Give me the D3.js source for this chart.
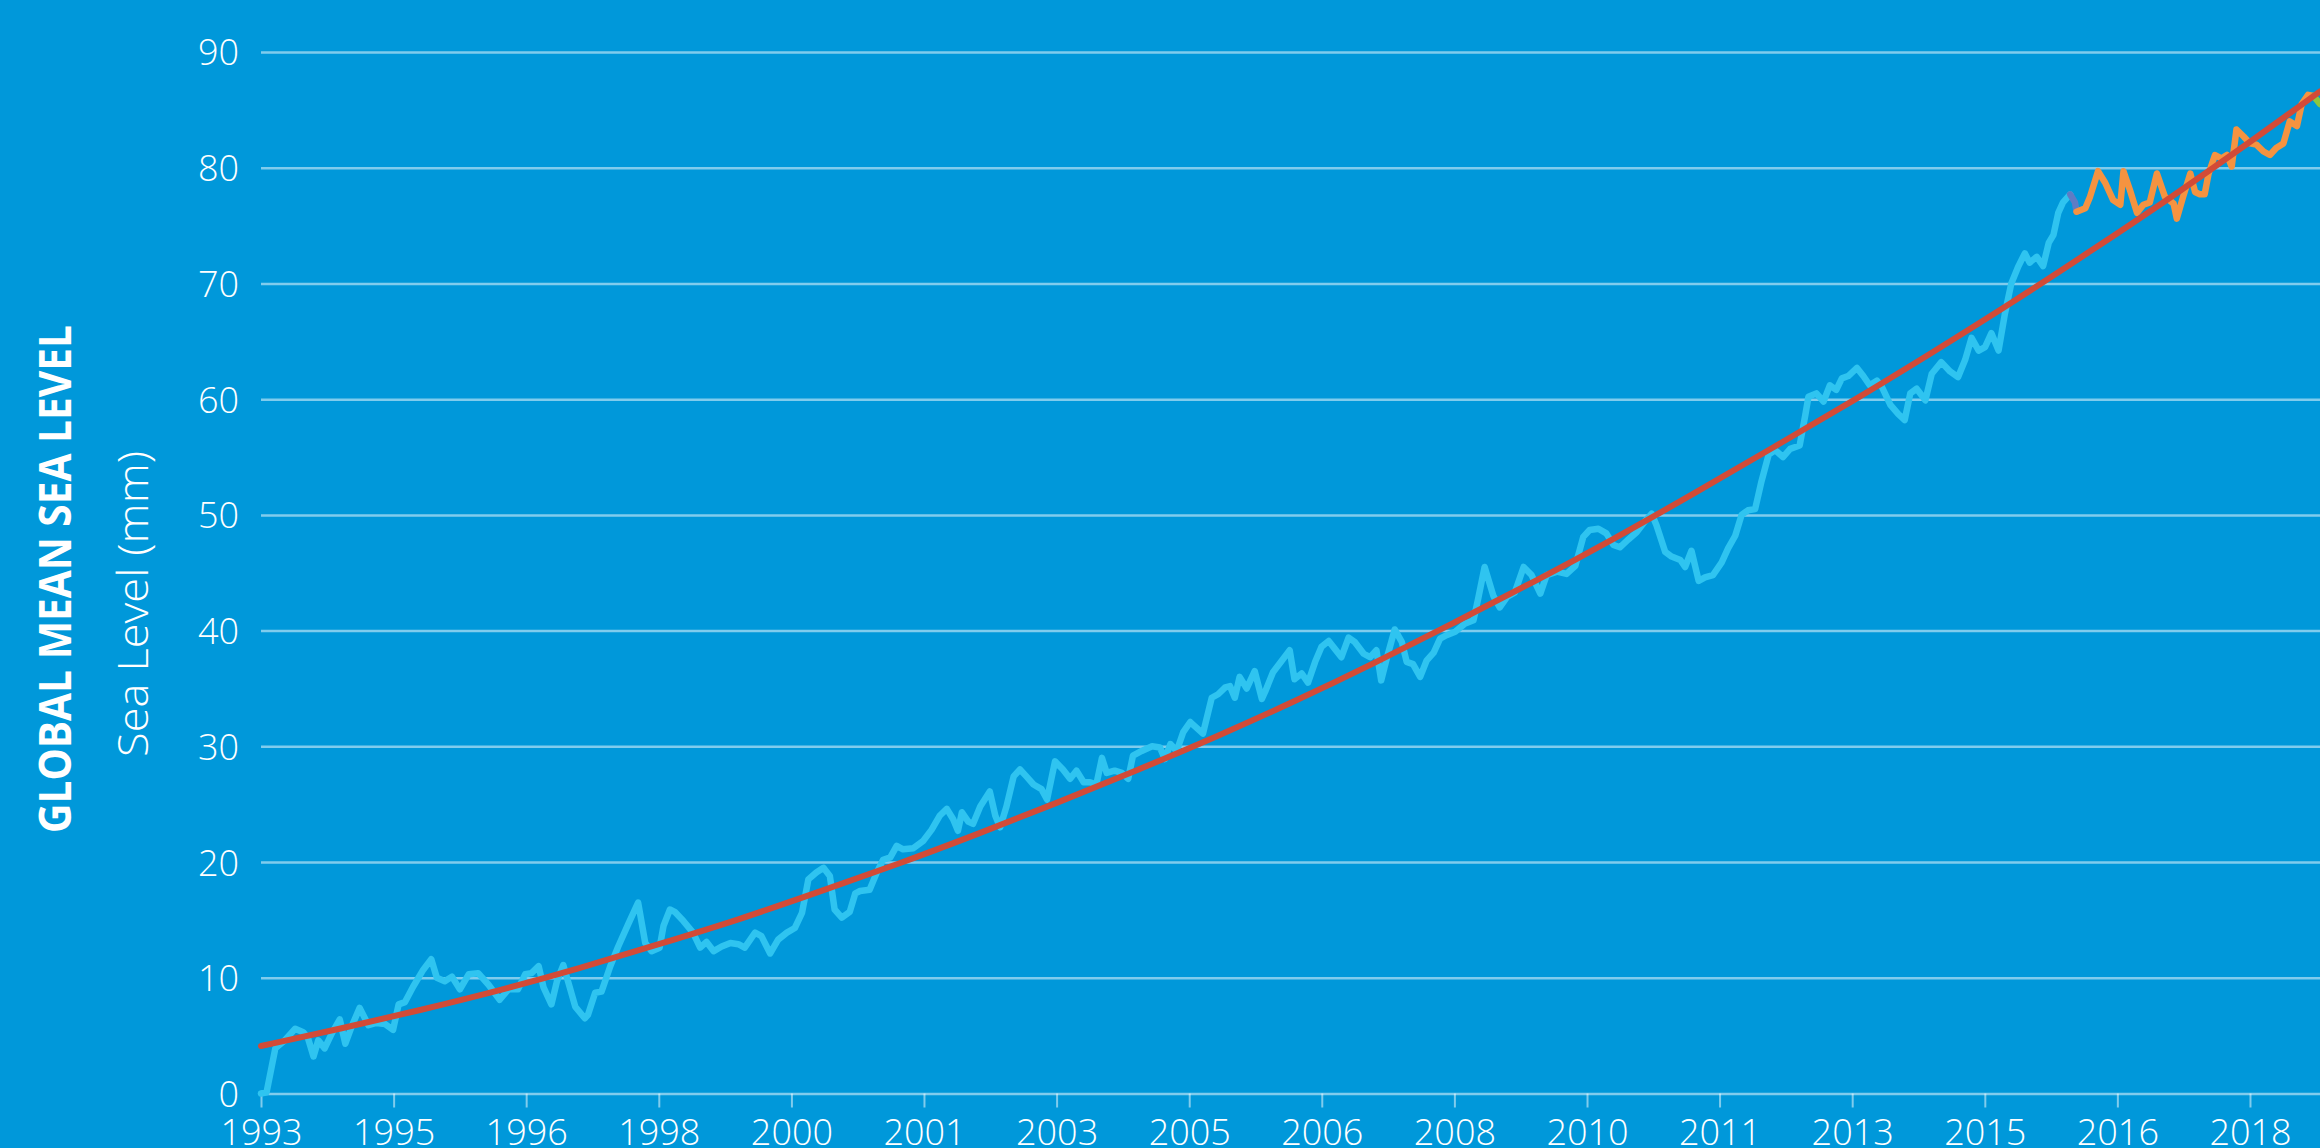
<!DOCTYPE html>
<html>
<head>
<meta charset="utf-8">
<script src="https://cdn.jsdelivr.net/npm/d3@7"></script>
<style>
  html, body { margin: 0; padding: 0; background: #0098da; }
  svg { display: block; }
</style>
</head>
<body>
<div id="my-chart"></div>
<script>
// y axis ticks (mm)
const yTicks = [0, 10, 20, 30, 40, 50, 60, 70, 80, 90];

// x axis ticks (decimal years, every 20 months) and their printed labels
const xTickValues = [1993, 1994.667, 1996.333, 1998, 1999.667, 2001.333, 2003, 2004.667,
                     2006.333, 2008, 2009.667, 2011.333, 2013, 2014.667, 2016.333, 2018];
const xTickLabels = ["1993", "1995", "1996", "1998", "2000", "2001", "2003", "2005",
                     "2006", "2008", "2010", "2011", "2013", "2015", "2016", "2018"];

// climate record, [year, mm]
const cciSeries = [
  [1993.00, 0.0], [1993.07, 0.1], [1993.18, 3.9], [1993.30, 4.6], [1993.43, 5.6], [1993.53, 5.3],
  [1993.59, 4.8], [1993.66, 3.2], [1993.72, 4.6], [1993.80, 3.9], [1993.89, 5.2], [1993.99, 6.4],
  [1994.06, 4.3], [1994.14, 5.8], [1994.24, 7.4], [1994.35, 5.9], [1994.45, 6.1], [1994.56, 6.0],
  [1994.66, 5.5], [1994.73, 7.7], [1994.81, 7.9], [1994.91, 9.2], [1995.04, 10.7], [1995.14, 11.6],
  [1995.21, 10.0], [1995.31, 9.7], [1995.40, 10.1], [1995.50, 9.0], [1995.61, 10.3], [1995.73, 10.4],
  [1995.86, 9.4], [1996.00, 8.1], [1996.11, 9.0], [1996.23, 9.0], [1996.32, 10.3], [1996.40, 10.4],
  [1996.49, 11.0], [1996.55, 9.2], [1996.65, 7.7], [1996.72, 9.7], [1996.80, 11.1], [1996.88, 9.2],
  [1996.95, 7.5], [1997.07, 6.5], [1997.11, 6.8], [1997.20, 8.7], [1997.28, 8.8], [1997.39, 11.0],
  [1997.49, 12.7], [1997.62, 14.7], [1997.74, 16.5], [1997.83, 13.0], [1997.91, 12.3], [1998.01, 12.6],
  [1998.06, 14.5], [1998.14, 15.9], [1998.20, 15.7], [1998.31, 14.9], [1998.43, 13.9], [1998.52, 12.6],
  [1998.60, 13.1], [1998.69, 12.3], [1998.79, 12.7], [1998.90, 13.0], [1999.00, 12.9], [1999.08, 12.6],
  [1999.21, 13.9], [1999.29, 13.6], [1999.40, 12.1], [1999.50, 13.3], [1999.61, 13.9], [1999.71, 14.3],
  [1999.80, 15.6], [1999.88, 18.5], [1999.98, 19.1], [2000.07, 19.5], [2000.15, 18.8], [2000.21, 15.9],
  [2000.30, 15.2], [2000.40, 15.7], [2000.47, 17.3], [2000.53, 17.5], [2000.65, 17.6], [2000.74, 19.1],
  [2000.82, 20.2], [2000.91, 20.4], [2000.99, 21.4], [2001.07, 21.1], [2001.20, 21.2], [2001.32, 21.8],
  [2001.43, 22.8], [2001.53, 24.0], [2001.62, 24.6], [2001.70, 23.7], [2001.76, 22.7], [2001.81, 24.3],
  [2001.89, 23.5], [2001.95, 23.3], [2002.04, 24.8], [2002.16, 26.1], [2002.23, 24.0], [2002.29, 23.0],
  [2002.37, 24.8], [2002.46, 27.4], [2002.54, 28.0], [2002.62, 27.4], [2002.71, 26.7], [2002.81, 26.3],
  [2002.88, 25.4], [2002.98, 28.7], [2003.08, 28.0], [2003.17, 27.2], [2003.25, 27.9], [2003.34, 26.9],
  [2003.42, 26.9], [2003.50, 26.7], [2003.57, 29.0], [2003.63, 27.7], [2003.73, 27.9], [2003.82, 27.7],
  [2003.90, 27.2], [2003.96, 29.2], [2004.07, 29.6], [2004.20, 30.0], [2004.30, 29.9], [2004.36, 28.9],
  [2004.43, 30.2], [2004.51, 29.6], [2004.59, 31.2], [2004.68, 32.1], [2004.76, 31.6], [2004.84, 31.1],
  [2004.95, 34.2], [2005.03, 34.5], [2005.12, 35.1], [2005.18, 35.2], [2005.24, 34.2], [2005.30, 36.0],
  [2005.39, 35.0], [2005.49, 36.5], [2005.58, 34.1], [2005.62, 34.7], [2005.72, 36.4], [2005.83, 37.4],
  [2005.93, 38.3], [2005.99, 35.8], [2006.08, 36.3], [2006.16, 35.5], [2006.25, 37.3], [2006.33, 38.6],
  [2006.42, 39.1], [2006.50, 38.4], [2006.58, 37.7], [2006.67, 39.4], [2006.75, 39.0], [2006.86, 38.0],
  [2006.94, 37.7], [2007.02, 38.3], [2007.08, 35.7], [2007.15, 37.6], [2007.25, 40.1], [2007.34, 39.0],
  [2007.40, 37.3], [2007.48, 37.1], [2007.57, 36.0], [2007.65, 37.4], [2007.74, 38.1], [2007.82, 39.3],
  [2007.90, 39.6], [2008.01, 39.9], [2008.13, 40.6], [2008.24, 40.9], [2008.30, 42.8], [2008.38, 45.5],
  [2008.49, 43.0], [2008.57, 42.0], [2008.66, 42.9], [2008.76, 43.3], [2008.87, 45.5], [2008.97, 44.8],
  [2009.08, 43.2], [2009.16, 44.8], [2009.29, 45.1], [2009.41, 44.9], [2009.52, 45.6], [2009.62, 48.1],
  [2009.70, 48.7], [2009.81, 48.8], [2009.91, 48.4], [2010.00, 47.4], [2010.08, 47.2], [2010.19, 47.9],
  [2010.29, 48.5], [2010.40, 49.5], [2010.48, 50.1], [2010.54, 49.1], [2010.65, 46.8], [2010.73, 46.4],
  [2010.84, 46.1], [2010.90, 45.5], [2010.98, 46.9], [2011.07, 44.3], [2011.15, 44.6], [2011.25, 44.8],
  [2011.36, 45.9], [2011.44, 47.1], [2011.53, 48.2], [2011.61, 50.0], [2011.69, 50.4], [2011.78, 50.5],
  [2011.86, 52.9], [2011.95, 55.2], [2012.03, 55.6], [2012.13, 55.0], [2012.22, 55.7], [2012.34, 56.0],
  [2012.41, 58.6], [2012.45, 60.2], [2012.55, 60.5], [2012.64, 59.8], [2012.72, 61.2], [2012.80, 60.8],
  [2012.87, 61.8], [2012.95, 62.0], [2013.06, 62.7], [2013.14, 62.0], [2013.22, 61.2], [2013.31, 61.6],
  [2013.37, 61.1], [2013.48, 59.5], [2013.58, 58.7], [2013.66, 58.2], [2013.73, 60.5], [2013.81, 60.9],
  [2013.92, 59.9], [2014.00, 62.2], [2014.12, 63.2], [2014.23, 62.4], [2014.33, 61.9], [2014.42, 63.4],
  [2014.50, 65.3], [2014.59, 64.2], [2014.67, 64.5], [2014.75, 65.7], [2014.84, 64.2], [2014.92, 67.4],
  [2015.00, 70.0], [2015.09, 71.5], [2015.17, 72.6], [2015.23, 71.8], [2015.32, 72.3], [2015.40, 71.5],
  [2015.47, 73.5], [2015.53, 74.2], [2015.59, 76.1], [2015.65, 77.0], [2015.74, 77.7]
];

// short joining piece between the two records
const joinSeries = [[2015.74, 77.7], [2015.80, 77.0], [2015.82, 76.2]];

// recent record
const nrtSeries = [
  [2015.82, 76.2], [2015.93, 76.5], [2015.99, 77.5], [2016.09, 79.7], [2016.18, 78.7], [2016.28, 77.2],
  [2016.37, 76.8], [2016.41, 79.7], [2016.49, 78.1], [2016.58, 76.1], [2016.66, 76.8], [2016.74, 77.0],
  [2016.83, 79.5], [2016.93, 77.5], [2017.04, 76.9], [2017.08, 75.6], [2017.16, 77.5], [2017.25, 79.5],
  [2017.31, 77.9], [2017.37, 77.7], [2017.43, 77.7], [2017.48, 79.5], [2017.56, 81.1], [2017.64, 80.8],
  [2017.71, 81.1], [2017.77, 80.1], [2017.83, 83.3], [2017.92, 82.7], [2018.00, 82.1], [2018.08, 82.0],
  [2018.17, 81.4], [2018.25, 81.1], [2018.33, 81.7], [2018.42, 82.1], [2018.50, 84.0], [2018.59, 83.6],
  [2018.65, 85.5], [2018.73, 86.3], [2018.80, 86.2]
];

// last few days
const latestSeries = [[2018.80, 86.2], [2018.88, 85.5]];

// trend curve
const trendSeries = [
  [1993, 4.1], [1994, 5.6], [1995, 7.2], [1996, 8.9], [1997, 10.8], [1998, 12.9], [1999, 15.0],
  [2000, 17.4], [2001, 19.8], [2002, 22.4], [2003, 25.1], [2004, 27.9], [2005, 30.8], [2006, 33.9],
  [2007, 37.2], [2008, 40.7], [2009, 44.2], [2010, 47.9], [2011, 51.8], [2012, 55.8], [2013, 59.8],
  [2014, 64.0], [2015, 68.3], [2016, 72.8], [2017, 77.4], [2018, 82.2], [2018.88, 86.6]
];

const width = 2320, height = 1148;
const marginLeft = 261, marginRight = 0, marginTop = 52, marginBottom = 54.5;
const fontFamily = "'Open Sans', 'Noto Sans', sans-serif";

const svg = d3.select("#my-chart").append("svg")
    .attr("width", width)
    .attr("height", height)
    .attr("viewBox", [0, 0, width, height]);

svg.append("rect")
    .attr("width", width)
    .attr("height", height)
    .attr("fill", "#0098da");

const x = d3.scaleLinear()
    .domain([1993, 2018.88])
    .range([marginLeft, width - marginRight]);

const y = d3.scaleLinear()
    .domain([0, 90])
    .range([height - marginBottom, marginTop]);

const gridColor = "rgba(255,255,255,0.5)";

// y axis + horizontal grid
svg.append("g")
    .attr("transform", `translate(${marginLeft},0)`)
    .call(d3.axisLeft(y).tickValues(yTicks).tickSize(-(width - marginLeft - marginRight)).tickPadding(22))
    .call(g => g.select(".domain").remove())
    .call(g => g.selectAll(".tick line")
        .attr("stroke", gridColor)
        .attr("stroke-width", 2.5))
    .call(g => g.selectAll(".tick text")
        .attr("fill", "#fff")
        .attr("font-family", fontFamily)
        .attr("font-weight", 300)
        .attr("font-size", 36)
        .attr("dy", "0.36em"));

// x axis
svg.append("g")
    .attr("transform", `translate(0,${height - marginBottom})`)
    .call(d3.axisBottom(x).tickValues(xTickValues).tickFormat((d, i) => xTickLabels[i]).tickSize(14).tickPadding(12))
    .call(g => g.select(".domain").remove())
    .call(g => g.selectAll(".tick line")
        .attr("stroke", gridColor)
        .attr("stroke-width", 2))
    .call(g => g.selectAll(".tick text")
        .attr("fill", "#fff")
        .attr("font-family", fontFamily)
        .attr("font-weight", 300)
        .attr("font-size", 36));

// axis titles
svg.append("text")
    .attr("transform", "translate(71,579) rotate(-90)")
    .attr("text-anchor", "middle")
    .attr("fill", "#fff")
    .attr("font-family", fontFamily)
    .attr("font-weight", 700)
    .attr("font-size", 45)
    .attr("textLength", 508)
    .attr("lengthAdjust", "spacingAndGlyphs")
    .text("GLOBAL MEAN SEA LEVEL");

svg.append("text")
    .attr("transform", "translate(148,604) rotate(-90)")
    .attr("text-anchor", "middle")
    .attr("fill", "#fff")
    .attr("font-family", fontFamily)
    .attr("font-weight", 300)
    .attr("font-size", 42)
    .attr("textLength", 306)
    .attr("lengthAdjust", "spacingAndGlyphs")
    .text("Sea Level (mm)");

const line = d3.line()
    .x(d => x(d[0]))
    .y(d => y(d[1]));

const smooth = d3.line()
    .curve(d3.curveBasis)
    .x(d => x(d[0]))
    .y(d => y(d[1]));

const lines = svg.append("g")
    .attr("fill", "none")
    .attr("stroke-linejoin", "round")
    .attr("stroke-linecap", "round");

lines.append("path")
    .datum(cciSeries)
    .attr("d", line)
    .attr("stroke", "#2fc4f0")
    .attr("stroke-width", 6.5);

lines.append("path")
    .datum(joinSeries)
    .attr("d", line)
    .attr("stroke", "#5f7cc4")
    .attr("stroke-width", 6.5);

lines.append("path")
    .datum(nrtSeries)
    .attr("d", line)
    .attr("stroke", "#f59340")
    .attr("stroke-width", 6.5);

lines.append("path")
    .datum(latestSeries)
    .attr("d", line)
    .attr("stroke", "#8cc63f")
    .attr("stroke-width", 6.5);

lines.append("path")
    .datum(trendSeries)
    .attr("d", smooth)
    .attr("stroke", "#d24b37")
    .attr("stroke-width", 6);
</script>
</body>
</html>
